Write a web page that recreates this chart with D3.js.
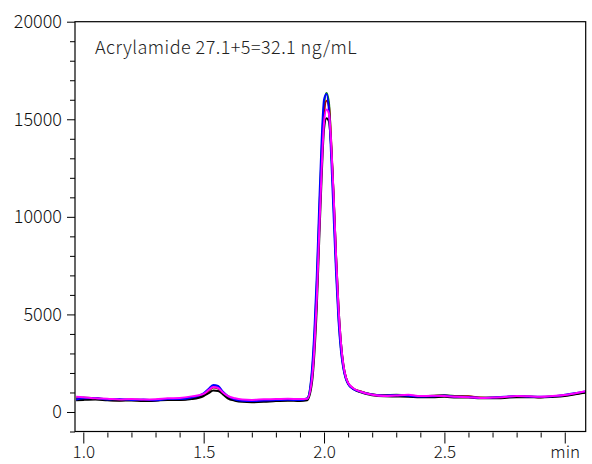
<!DOCTYPE html>
<html><head><meta charset="utf-8">
<script src="https://cdn.jsdelivr.net/npm/d3@7"></script>
<style>body{margin:0;background:#fff}svg{display:block}</style>
</head><body>
<script>
const times = [0.97,1.0,1.05,1.1,1.15,1.2,1.25,1.3,1.35,1.4,1.45,1.5,1.52,1.54,1.56,1.58,1.6,1.63,1.66,1.7,1.75,1.8,1.85,1.9,1.93,1.95,1.96,1.97,1.98,1.99,2.0,2.01,2.02,2.03,2.04,2.05,2.06,2.07,2.08,2.09,2.1,2.12,2.15,2.2,2.25,2.3,2.35,2.4,2.45,2.5,2.55,2.6,2.65,2.7,2.75,2.8,2.85,2.9,2.95,3.0,3.05,3.087];
const green   = [700,740,690,650,620,640,610,620,660,650,720,900,1100,1300,1250,1000,800,650,600,580,600,620,640,620,700,2000,3800,6500,10000,13300,15700,16350,15900,13600,10600,7500,5000,3300,2300,1750,1450,1200,1050,900,850,880,850,800,830,860,820,790,730,740,760,800,790,770,800,860,950,1000];
const red     = [650,680,700,620,600,620,580,600,640,630,700,880,1080,1250,1200,980,760,630,580,560,580,600,620,600,650,1800,3500,6000,9500,12800,15200,15950,15700,13800,11000,7900,5300,3500,2400,1800,1480,1220,1060,900,860,850,830,810,820,840,800,800,740,730,750,790,780,760,790,840,930,1020];
const magenta = [780,760,700,680,640,660,640,650,700,720,800,930,1120,1280,1230,1000,820,700,640,620,650,660,680,660,680,1700,3300,5800,9200,12400,14800,15500,15300,13700,11100,8000,5400,3600,2450,1820,1500,1230,1050,880,820,850,880,820,830,820,780,760,720,740,770,820,800,780,820,870,970,1060];
const blue    = [640,700,720,640,660,620,640,600,660,660,740,960,1180,1380,1330,1040,820,640,580,560,590,610,630,610,690,2200,4200,7000,10600,13900,16000,16300,15500,13000,10000,7100,4700,3150,2250,1720,1430,1180,1040,900,850,860,830,790,810,840,780,770,720,740,780,820,790,780,800,880,980,1060];
const black   = [600,620,640,600,580,590,560,580,620,610,660,820,960,1100,1080,900,700,580,520,500,520,560,580,560,600,1500,3000,5400,8800,12000,14500,15050,14900,13500,11000,8000,5400,3600,2450,1800,1480,1200,1020,860,800,790,780,760,760,780,740,740,700,700,720,760,760,740,770,820,920,1000];
const seriesNames = ["green","red","black","blue","magenta"];
const seriesColors = ["#008a00","#b00000","#000000","#0000ff","#ff00ff"];
const seriesValues = [green, red, black, blue, magenta];
const yMajor = [0,5000,10000,15000,20000];
const xMajor = [1.0,1.5,2.0,2.5,3.0];
const xMajorLabels = ["1.0","1.5","2.0","2.5","min"];
const title = "Acrylamide 27.1+5=32.1 ng/mL";

const W = 592, H = 464;
const L = 75, T = 21.7, R = 585.7, B = 431.5;
const svg = d3.select("body").append("svg").attr("width", W).attr("height", H);
const x = d3.scaleLinear().domain([0.9655, 3.087]).range([L, R]);
const y = d3.scaleLinear().domain([-1000, 20000]).range([B, T]);
const font = "'Noto Sans CJK JP','Noto Sans',sans-serif";

// plot lines
const g = svg.append("g");
svg.append("clipPath").attr("id","c").append("rect").attr("x",L).attr("y",T).attr("width",R-L).attr("height",B-T);
const line = d3.line().x((d,i)=>x(times[i])).y(d=>y(d)).curve(d3.curveMonotoneX);
seriesValues.forEach((vals, k) => {
  g.append("path").attr("d", line(vals)).attr("fill","none")
   .attr("stroke", seriesColors[k]).attr("stroke-width", 2).attr("clip-path","url(#c)");
});

// frame
svg.append("rect").attr("x", L).attr("y", T).attr("width", R-L).attr("height", B-T)
  .attr("fill","none").attr("stroke","#000").attr("stroke-width",1.2);

// y axis
const yMinor = d3.range(-1000, 20001, 1000).filter(v => !yMajor.includes(v));
const yAx = svg.append("g").attr("transform", `translate(${L},0)`);
yAx.call(d3.axisLeft(y).tickValues(yMajor).tickSize(8).tickPadding(5).tickFormat(d3.format("d")))
  .call(a => a.select(".domain").remove());
yAx.selectAll(".tick text").attr("font-size", 18).attr("font-family", font).attr("fill","#111").attr("font-weight", 300);
const yAx2 = svg.append("g").attr("transform", `translate(${L},0)`);
yAx2.call(d3.axisLeft(y).tickValues(yMinor).tickSize(5).tickFormat(""))
  .call(a => a.select(".domain").remove());

// x axis
const xMinor = d3.range(1.0, 3.09, 0.1).map(v => +v.toFixed(2)).filter(v => !xMajor.some(m => Math.abs(m - v) < 1e-6));
const xAx = svg.append("g").attr("transform", `translate(0,${B+1})`);
xAx.call(d3.axisBottom(x).tickValues(xMajor).tickSize(11).tickFormat((d,i)=>xMajorLabels[i]))
  .call(a => a.select(".domain").remove());
xAx.selectAll(".tick text").attr("font-size", 17).attr("font-family", font).attr("fill","#111").attr("font-weight", 300)
  .attr("dy", null).attr("y", 458 - (B+1));
const xAx2 = svg.append("g").attr("transform", `translate(0,${B+1})`);
xAx2.call(d3.axisBottom(x).tickValues(xMinor).tickSize(5).tickFormat(""))
  .call(a => a.select(".domain").remove());

svg.selectAll(".tick line").attr("stroke","#000");

// title
svg.append("text").attr("x", 95).attr("y", 54).text(title)
  .attr("font-size", 18).attr("letter-spacing", 0.45).attr("font-family", font).attr("fill","#222").attr("font-weight", 300);
</script>
</body></html>
